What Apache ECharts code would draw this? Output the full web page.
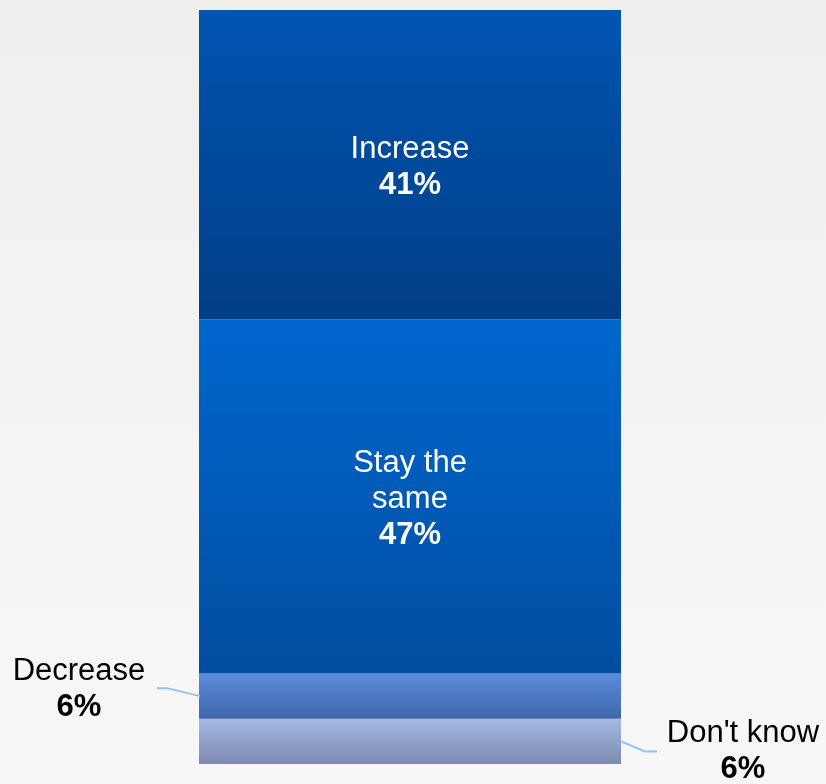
<!DOCTYPE html>
<html>
<head>
<meta charset="utf-8">
<script src="https://cdn.jsdelivr.net/npm/echarts@6/dist/echarts.min.js"></script>
<style>
  html, body { margin: 0; padding: 0; }
  #chart { width: 826px; height: 784px; }
</style>
</head>
<body>
<div id="chart"></div>
<script>
// ---- data ----
const categories = ['All'];
const seriesNames = ["Don't know", 'Decrease', 'Stay the same', 'Increase'];
const dontKnow = [6];
const decrease = [6];
const stayTheSame = [47];
const increase = [41];
const labelTexts = ["Don't know", 'Decrease', 'Stay the\nsame', 'Increase'];

const FONT = '"Liberation Sans", Arial, sans-serif';

function grad(top, bottom) {
  return new echarts.graphic.LinearGradient(0, 0, 0, 1, [
    { offset: 0, color: top },
    { offset: 1, color: bottom }
  ]);
}

function labelFormatter(name) {
  return function (p) {
    return name.split('\n').map(s => '{n|' + s + '}').join('\n') + '\n{b|' + p.value + '%}';
  };
}

function richStyle(color) {
  return {
    n: { fontSize: 31, fontFamily: FONT, color: color, lineHeight: 36 },
    b: { fontSize: 31, fontFamily: FONT, color: color, fontWeight: 'bold', lineHeight: 36 }
  };
}

// leader lines: anchored at the middle of the small segments (stacked values), side -1 = left, 1 = right
const leaderData = [
  [0, dontKnow[0] + decrease[0] / 2, -1],
  [0, dontKnow[0] / 2, 1]
];

const chart = echarts.init(document.getElementById('chart'), null, { renderer: 'canvas' });

const option = {
  animation: false,
  backgroundColor: grad('#EFEFED', '#F7F7F7'),
  grid: { left: 199, right: 205, top: 10, bottom: 20 },
  xAxis: { type: 'category', data: categories, show: false },
  yAxis: { type: 'value', min: 0, max: 100, show: false },
  series: [
    {
      name: seriesNames[0], type: 'bar', stack: 'total', data: dontKnow,
      barWidth: '100%',
      itemStyle: { color: grad('#A5B9E5', '#7C8BAF') },
      label: {
        show: true, formatter: labelFormatter(labelTexts[0]),
        rich: richStyle('#000000'), align: 'center', verticalAlign: 'middle'
      },
      labelLayout: function (p) {
        const r = p.rect;
        return { x: r.x + r.width + 122, y: r.y + r.height * 0.5 + 10, align: 'center', verticalAlign: 'middle' };
      }
    },
    {
      name: seriesNames[1], type: 'bar', stack: 'total', data: decrease,
      barWidth: '100%',
      itemStyle: { color: grad('#5B8CDC', '#4167A9') },
      label: {
        show: true, formatter: labelFormatter(labelTexts[1]),
        rich: richStyle('#000000'), align: 'center', verticalAlign: 'middle'
      },
      labelLayout: function (p) {
        const r = p.rect;
        return { x: r.x - 120, y: r.y + r.height * 0.5 - 7, align: 'center', verticalAlign: 'middle' };
      }
    },
    {
      name: seriesNames[2], type: 'bar', stack: 'total', data: stayTheSame,
      barWidth: '100%',
      itemStyle: { color: grad('#0067CF', '#004EA0') },
      label: {
        show: true, position: 'inside', offset: [0, 3], formatter: labelFormatter(labelTexts[2]),
        rich: richStyle('#FFFFFF')
      }
    },
    {
      name: seriesNames[3], type: 'bar', stack: 'total', data: increase,
      barWidth: '100%',
      itemStyle: { color: grad('#0055B2', '#003E86') },
      label: {
        show: true, position: 'inside', offset: [0, 3], formatter: labelFormatter(labelTexts[3]),
        rich: richStyle('#FFFFFF')
      }
    },
    {
      name: 'leaders', type: 'custom', silent: true, z: 5,
      data: leaderData,
      renderItem: function (params, api) {
        const c = api.coord([api.value(0), api.value(1)]);
        const side = api.value(2);
        const half = api.size([1, 0])[0] / 2;
        const sx = c[0] + side * half;
        const sy = c[1];
        let pts;
        if (side < 0) {
          pts = [[sx + 1, sy], [sx - 32, sy - 8], [sx - 42, sy - 8]];
        } else {
          pts = [[sx, sy], [sx + 24, sy + 10], [sx + 36, sy + 10]];
        }
        return {
          type: 'polyline',
          shape: { points: pts },
          style: { stroke: '#8CC3F2', lineWidth: 2, fill: null }
        };
      }
    }
  ]
};

chart.setOption(option);
</script>
</body>
</html>
